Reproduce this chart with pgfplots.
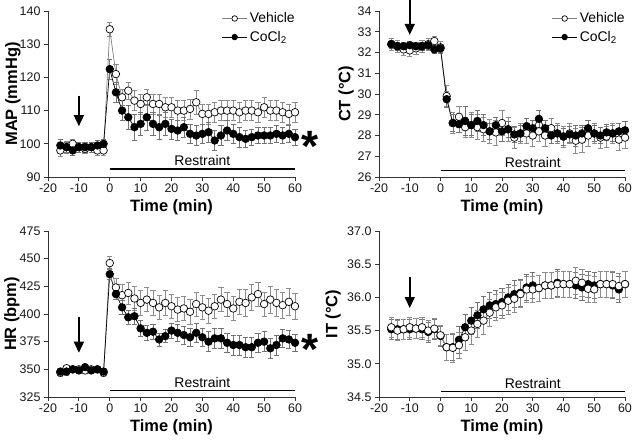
\documentclass[border=0pt]{standalone}
\usepackage{fontspec}
\setmainfont{Liberation Sans}
\usepackage{pgfplots}
\usepackage{pgfplotstable}
\pgfplotsset{compat=1.18}
\usetikzlibrary{arrows.meta}

% t  vehicle  sem  cocl2  sem
\pgfplotstableread{
t v ve c ce
-16 98 1.8 99.5 1.8
-14 99 1.8 99 1.5
-12 100 1.5 98 1.5
-10 99 1.5 99 1.5
-8 98.5 1.5 99 1.5
-6 99 1.5 99 1.5
-4 98 1.5 99.5 1.5
-2 98 1.5 100 1.5
0 134.5 2 122.5 3
2 121 3 115.5 3
4 114 2.5 110 3
6 116 2.5 108 3.5
8 113 3 105 4
10 112 3 106 3.5
12 114 2.5 108 4
14 112 3 106 3.5
16 112 3 105 3.5
18 111 3 106 3.5
20 111 3 104.5 3
22 110 3 104 3
24 110 3 105 3
26 110.5 3 103 3
28 112.5 3.5 102.5 3
30 109 3 103 3
32 109 3 103.5 3
34 109.5 3 101 3
36 110 3 102.5 3
38 110 3 104 3
40 110 3 103 3
42 109.5 3 102 3
44 110 3 101.5 2.5
46 110 3 102 2.5
48 109.5 3 102.5 2.5
50 111 3 102.5 2.5
52 110 3 102.5 2.5
54 110 3 103 2.5
56 109.5 3 102.5 2.5
58 109 3 103 2.5
60 109.5 3 102 2.5
}\mapdata

\pgfplotstableread{
t v ve c ce
-16 32.4 0.3 32.4 0.2
-14 32.3 0.3 32.3 0.2
-12 32.15 0.3 32.3 0.2
-10 32.1 0.3 32.35 0.2
-8 32.2 0.3 32.3 0.2
-6 32.3 0.3 32.3 0.2
-4 32.4 0.3 32.35 0.2
-2 32.55 0.25 32.15 0.2
0 32.25 0.3 32.2 0.2
2 29.9 0.5 29.75 0.4
4 28.6 0.5 28.6 0.4
6 28.9 0.5 28.55 0.4
8 28.4 0.5 28.7 0.7
10 28.5 0.6 28.5 0.5
12 28.4 0.6 28.7 0.5
14 28.3 0.6 28.5 0.5
16 28.2 0.6 28.2 0.4
18 28.15 0.6 28.5 0.4
20 28.6 0.6 28.2 0.5
22 28.3 0.6 28.3 0.4
24 27.9 0.5 28.05 0.4
26 28.1 0.5 28.1 0.4
28 28.1 0.5 28.45 0.4
30 28.0 0.5 28.35 0.4
32 28.2 0.5 28.8 0.4
34 28.0 0.5 28.35 0.4
36 28.35 0.5 28.0 0.4
38 28.1 0.5 28.1 0.4
40 27.95 0.5 27.95 0.4
42 28.1 0.5 28.05 0.4
44 27.75 0.6 28.0 0.5
46 27.8 0.6 28.1 0.4
48 28.0 0.5 28.35 0.4
50 28.1 0.5 28.1 0.4
52 27.9 0.5 28.0 0.4
54 27.95 0.5 28.15 0.4
56 28.1 0.5 28.1 0.4
58 27.8 0.5 28.2 0.4
60 27.9 0.5 28.25 0.45
}\ctdata

\pgfplotstableread{
t v ve c ce
-16 347 3 348 3
-14 351 3 348 3
-12 350 3 350 3
-10 350 3 349 3
-8 349 3 352 3
-6 350 3 349 3
-4 350 3 350 3
-2 347 3 348 3
0 446 6 436 5
2 424 8 418 5
4 417 10 406 6
6 419 10 397 6
8 414 11 398 7
10 410 11 387 7
12 413 11 383 7
14 410 11 384 7
16 406 11 377 6
18 410 11 380 6
20 407 11 385 7
22 404 11 383 8
24 405 11 381 8
26 402 11 379 8
28 409 11 383 9
30 406 11 379 8
32 403 11 375 9
34 407 11 378 9
36 413 11 378 9
38 409 11 374 9
40 405 11 372 9
42 411 11 372 9
44 410 12 370 9
46 415 12 370 9
48 418 11 374 9
50 409 11 375 9
52 413 12 369 9
54 410 12 372 9
56 408 12 378 8
58 411 12 377 8
60 407 12 374 8
}\hrdata

\pgfplotstableread{
t v ve c ce
-16 35.55 0.15 35.52 0.15
-14 35.5 0.15 35.52 0.15
-12 35.52 0.15 35.52 0.15
-10 35.55 0.15 35.52 0.15
-8 35.53 0.15 35.53 0.15
-6 35.55 0.15 35.52 0.15
-4 35.5 0.15 35.48 0.15
-2 35.53 0.15 35.52 0.15
0 35.43 0.15 35.42 0.15
2 35.25 0.2 35.25 0.2
4 35.24 0.22 35.25 0.2
6 35.28 0.2 35.36 0.2
8 35.4 0.2 35.55 0.2
10 35.5 0.2 35.65 0.2
12 35.6 0.2 35.73 0.2
14 35.65 0.2 35.82 0.2
16 35.77 0.2 35.88 0.2
18 35.85 0.2 35.9 0.2
20 35.88 0.2 35.93 0.2
22 35.95 0.2 36.0 0.2
24 35.98 0.2 36.05 0.2
26 36.05 0.2 36.07 0.2
28 36.12 0.2 36.15 0.2
30 36.12 0.2 36.18 0.2
32 36.14 0.2 36.14 0.2
34 36.18 0.2 36.18 0.2
36 36.18 0.2 36.18 0.2
38 36.2 0.2 36.22 0.2
40 36.2 0.2 36.2 0.2
42 36.2 0.2 36.2 0.2
44 36.25 0.2 36.18 0.2
46 36.22 0.2 36.15 0.2
48 36.13 0.2 36.2 0.2
50 36.12 0.2 36.18 0.2
52 36.2 0.2 36.2 0.2
54 36.2 0.2 36.2 0.2
56 36.2 0.2 36.18 0.2
58 36.17 0.2 36.12 0.2
60 36.2 0.2 36.2 0.2
}\itdata

\pgfplotsset{
  panel/.style={
    anchor=south west, scale only axis, width=247bp, height=166bp,
    axis lines*=left, axis line style={black!80, line width=0.8pt},
    xmin=-20, xmax=60, xtick={-20,-10,...,60},
    tick align=outside, major tick length=4bp,
    tick style={black!80, line width=0.8pt},
    ticklabel style={font=\fontsize{12.5}{13}\selectfont, black!90},
    xticklabel style={yshift=1bp},
    /pgf/number format/assume math mode=true,
    xlabel={Time (min)},
    label style={font=\bfseries\fontsize{16.5}{18}\selectfont},
    legend style={draw=none, fill=none, at={(1.02,1.015)}, anchor=north east,
      font=\fontsize{14}{15}\selectfont, row sep=3bp},
    legend cell align=left,
    legend image code/.code={\draw[mark repeat=2,mark phase=2,mark size=2.8bp]
      plot coordinates {(0cm,0cm)(0.45cm,0cm)(0.9cm,0cm)};},
    clip=false,
  },
  ylab/.style={ylabel style={at={(axis description cs:#1,0.5)}, anchor=center, rotate=0}},
  veh/.style={black!50, line width=0.7pt, mark=*, mark size=3.8bp,
    mark options={fill=white, draw=black, line width=0.7pt},
    error bars/.cd, y dir=both, y explicit,
    error bar style={black!45, line width=0.6pt},
    error mark options={rotate=90, black!45, mark size=2.6bp, line width=0.6pt}},
  coc/.style={black, line width=0.7pt, mark=*, mark size=3.8bp,
    mark options={fill=black, draw=black},
    error bars/.cd, y dir=both, y explicit,
    error bar style={black!55, line width=0.6pt},
    error mark options={rotate=90, black!55, mark size=2.6bp, line width=0.6pt}},
}

\newcommand{\rlabel}{\fontsize{14}{15}\selectfont Restraint}
\newcommand{\sigstar}{\bfseries\fontsize{44}{44}\selectfont *}
\tikzset{stim/.style={-{Triangle[width=10bp,length=11bp]}, line width=1.6pt}}

\begin{document}
\begin{tikzpicture}
\path[use as bounding box] (0,0) rectangle (635bp,444bp);

% MAP
\begin{axis}[panel, at={(48bp,267bp)}, ymin=90, ymax=140, ytick={90,100,...,140},
  ylabel={MAP (mmHg)}, ylab=-0.142]
\addplot[veh] table[x=t, y=v, y error=ve] {\mapdata};
\addlegendentry{Vehicle}
\addplot[coc] table[x=t, y=c, y error=ce] {\mapdata};
\addlegendentry{CoCl\textsubscript{2}}
\draw[stim] (axis cs:-10,114.5) -- (axis cs:-10,105.3);
\draw[line width=1.2pt] (axis cs:0,92.4) -- (axis cs:60,92.4);
\node at (axis cs:30,94.9) {\rlabel};
\node at (axis cs:64.8,99.2) {\sigstar};
\end{axis}

% CT
\begin{axis}[panel, at={(379bp,267bp)}, width=246bp, ymin=26, ymax=34, ytick={26,27,...,34},
  ylabel={CT (°C)}, ylab=-0.134]
\addplot[veh] table[x=t, y=v, y error=ve] {\ctdata};
\addlegendentry{Vehicle}
\addplot[coc] table[x=t, y=c, y error=ce] {\ctdata};
\addlegendentry{CoCl\textsubscript{2}}
\draw[stim] (axis cs:-10,34.6) -- (axis cs:-10,32.85);
\draw[line width=1.2pt] (axis cs:0,26.32) -- (axis cs:60,26.32);
\node at (axis cs:30,26.72) {\rlabel};
\end{axis}

% HR
\begin{axis}[panel, at={(48bp,47bp)}, ymin=325, ymax=475, ytick={325,350,...,475},
  ylabel={HR (bpm)}, ylab=-0.146]
\addplot[veh] table[x=t, y=v, y error=ve] {\hrdata};
\addplot[coc] table[x=t, y=c, y error=ce] {\hrdata};
\draw[stim] (axis cs:-10,397) -- (axis cs:-10,365);
\draw[line width=1.2pt] (axis cs:0,331) -- (axis cs:60,331);
\node at (axis cs:30,338) {\rlabel};
\node at (axis cs:64.8,368) {\sigstar};
\end{axis}

% IT
\begin{axis}[panel, at={(379bp,47bp)}, width=246bp, ymin=34.5, ymax=37, ytick={34.5,35,...,37},
  yticklabel style={/pgf/number format/.cd, fixed, fixed zerofill, precision=1},
  ylabel={IT (°C)}, ylab=-0.187]
\addplot[coc] table[x=t, y=c, y error=ce] {\itdata};
\addplot[veh] table[x=t, y=v, y error=ve] {\itdata};
\draw[stim] (axis cs:-10,36.3) -- (axis cs:-10,35.84);
\draw[line width=1.2pt] (axis cs:0,34.585) -- (axis cs:60,34.585);
\node at (axis cs:30,34.71) {\rlabel};
\end{axis}
\end{tikzpicture}
\end{document}
